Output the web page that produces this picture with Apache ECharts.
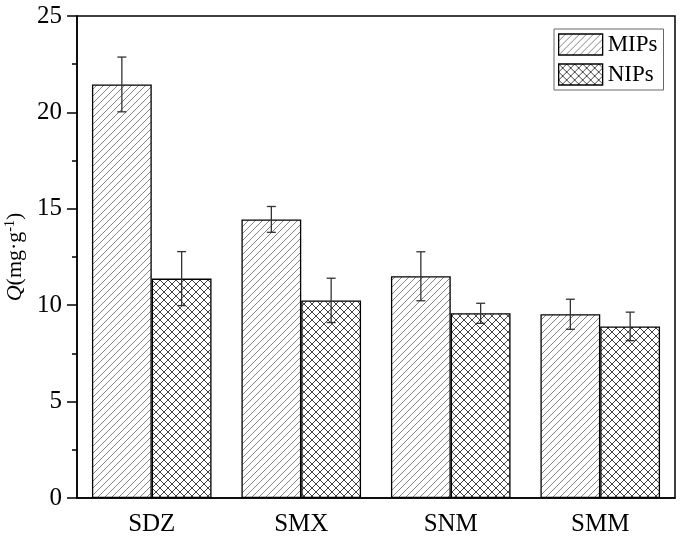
<!DOCTYPE html>
<html>
<head>
<meta charset="utf-8">
<script src="https://cdn.jsdelivr.net/npm/echarts@6/dist/echarts.min.js"></script>
<style>
html,body{margin:0;padding:0;background:#fff;}
#main{width:681px;height:540px;}
</style>
</head>
<body>
<div id="main"></div>
<script>
// 数据
var categories = ['SDZ', 'SMX', 'SNM', 'SMM'];
var mipsValues = [21.45, 14.45, 11.5, 9.53];
var mipsErrors = [1.42, 0.67, 1.27, 0.78];
var nipsValues = [11.38, 10.25, 9.58, 8.9];
var nipsErrors = [1.4, 1.15, 0.52, 0.74];
var yTicks = [0, 5, 10, 15, 20, 25];

// 填充花纹
function hatch(size, cross, color, lw) {
	var c = document.createElement('canvas');
	c.width = size; c.height = size;
	var ctx = c.getContext('2d');
	ctx.fillStyle = '#fff';
	ctx.fillRect(0, 0, size, size);
	ctx.strokeStyle = color;
	ctx.lineWidth = lw;
	ctx.beginPath();
	ctx.moveTo(-1, size + 1); ctx.lineTo(size + 1, -1);
	ctx.moveTo(-1, 1); ctx.lineTo(1, -1);
	ctx.moveTo(size - 1, size + 1); ctx.lineTo(size + 1, size - 1);
	if (cross) {
		ctx.moveTo(-1, -1); ctx.lineTo(size + 1, size + 1);
		ctx.moveTo(size - 1, -1); ctx.lineTo(size + 1, 1);
		ctx.moveTo(-1, size - 1); ctx.lineTo(1, size + 1);
	}
	ctx.stroke();
	return c;
}

var fontName = '"Liberation Serif", "Times New Roman", serif';
var mipsFill = { image: hatch(7, false, '#777', 0.9), repeat: 'repeat' };
var nipsFill = { image: hatch(8, true, '#333', 0.9), repeat: 'repeat' };

function errorSeries(name, values, errors, side) {
	var data = [];
	for (var i = 0; i < values.length; i++) {
		data.push([i, values[i] - errors[i], values[i] + errors[i]]);
	}
	return {
		name: name + '_err',
		type: 'custom',
		z: 10,
		silent: true,
		renderItem: function (params, api) {
			var band = api.size([1, 0])[0];
			var off = side * band * 0.2;
			var lo = api.coord([api.value(0), api.value(1)]);
			var hi = api.coord([api.value(0), api.value(2)]);
			var x = lo[0] + off;
			var cap = 4.5;
			var st = { stroke: '#333', lineWidth: 1.3 };
			return {
				type: 'group',
				children: [
					{ type: 'line', shape: { x1: x, y1: lo[1], x2: x, y2: hi[1] }, style: st },
					{ type: 'line', shape: { x1: x - cap, y1: lo[1], x2: x + cap, y2: lo[1] }, style: st },
					{ type: 'line', shape: { x1: x - cap, y1: hi[1], x2: x + cap, y2: hi[1] }, style: st }
				]
			};
		},
		encode: { x: 0, y: [1, 2] },
		data: data
	};
}

var myChart = echarts.init(document.getElementById('main'));
var option = {
	backgroundColor: '#fff',
	animation: false,
	textStyle: { fontFamily: fontName, color: '#000' },
	grid: {
		left: 77, right: 6, top: 16, bottom: 42,
		show: true, borderColor: '#000', borderWidth: 1.5,
		outerBoundsMode: 'none'
	},
	legend: {
		data: [
			{ name: 'MIPs', itemStyle: { color: mipsFill, borderColor: '#000', borderWidth: 1.3 } },
			{ name: 'NIPs', itemStyle: { color: nipsFill, borderColor: '#000', borderWidth: 1.3 } }
		],
		icon: 'rect',
		orient: 'vertical',
		left: 554, top: 29,
		padding: [4, 6, 4, 4],
		itemGap: 7,
		itemWidth: 44, itemHeight: 21,
		itemTextGap: 13,
		borderColor: '#666', borderWidth: 1,
		textStyle: { fontFamily: fontName, fontSize: 23, color: '#000' }
	},
	xAxis: [{
		type: 'category',
		data: categories,
		axisLine: { lineStyle: { color: '#000', width: 1.5 } },
		axisTick: { alignWithLabel: true, length: 8, lineStyle: { color: '#000', width: 1.5 } },
		axisLabel: { fontFamily: fontName, fontSize: 25, color: '#000', margin: 14 }
	}, {
		type: 'category',
		data: categories,
		position: 'bottom',
		axisLine: { show: false },
		axisTick: { inside: true, length: 4, lineStyle: { color: '#000', width: 1.5 } },
		axisLabel: { show: false }
	}],
	yAxis: {
		type: 'value',
		min: yTicks[0], max: yTicks[yTicks.length - 1], interval: 5,
		name: '{q|Q}{t|(mg·g}{s|-1}{t|)}',
		nameLocation: 'middle',
		nameGap: 50,
		nameTextStyle: {
			rich: {
				q: { fontFamily: fontName, fontSize: 22, fontStyle: 'italic', color: '#000' },
				t: { fontFamily: fontName, fontSize: 22, color: '#000' },
				s: { fontFamily: fontName, fontSize: 14, color: '#000', padding: [0, 0, 9, 0] }
			}
		},
		splitLine: { show: false },
		axisLine: { show: true, lineStyle: { color: '#000', width: 1.5 } },
		axisTick: { show: true, length: 10, lineStyle: { color: '#000', width: 1.5 } },
		minorTick: { show: true, splitNumber: 2, length: 5, lineStyle: { color: '#000', width: 1.5 } },
		axisLabel: { fontFamily: fontName, fontSize: 25, color: '#000', margin: 15 }
	},
	series: [{
		name: 'MIPs',
		type: 'bar',
		barGap: 0,
		barCategoryGap: '20%',
		itemStyle: { color: mipsFill, borderColor: '#000', borderWidth: 1.3 },
		data: mipsValues
	}, {
		name: 'NIPs',
		type: 'bar',
		barGap: 0,
		barCategoryGap: '20%',
		itemStyle: { color: nipsFill, borderColor: '#000', borderWidth: 1.3 },
		data: nipsValues
	},
	errorSeries('MIPs', mipsValues, mipsErrors, -1),
	errorSeries('NIPs', nipsValues, nipsErrors, 1)
	]
};
myChart.setOption(option);
</script>
</body>
</html>
